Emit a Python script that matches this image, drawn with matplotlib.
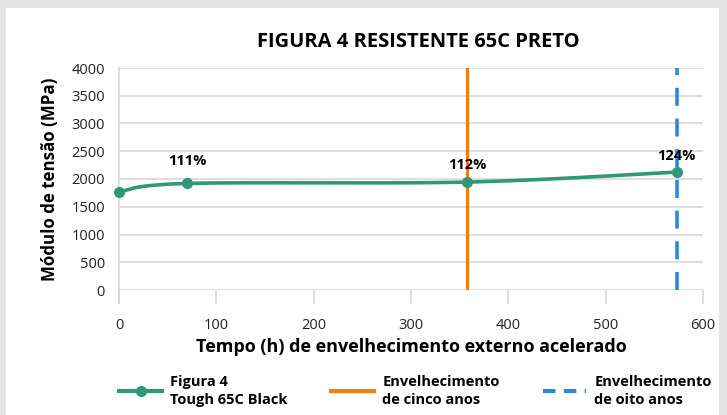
import numpy as np
import matplotlib
matplotlib.use('Agg')
import matplotlib.pyplot as plt
from matplotlib.patches import Rectangle
from matplotlib.lines import Line2D

plt.rcParams['font.family'] = ['Open Sans', 'DejaVu Sans']

# dados
hours = [0, 70, 358, 573]
modulus = [1770, 1920, 1945, 2125]
point_labels = ['', '111%', '112%', '124%']
five_years_h = 358
eight_years_h = 573

title = 'FIGURA 4 RESISTENTE 65C PRETO'
xlabel = 'Tempo (h) de envelhecimento externo acelerado'
ylabel = 'Módulo de tensão (MPa)'
series_name = 'Figura 4\nTough 65C Black'
five_name = 'Envelhecimento\nde cinco anos'
eight_name = 'Envelhecimento\nde oito anos'

green = '#2f9878'
orange = '#f07c17'
blue = '#2f88d4'
grid_c = '#d4d4d4'


def smooth_curve(x, y, n=60):
    # curva suavizada estilo Excel (Bezier com pontos de controle Catmull-Rom)
    p = np.column_stack([x, y]).astype(float)
    pts = np.vstack([p[0], p, p[-1]])
    out = []
    t = np.linspace(0, 1, n)[:, None]
    for i in range(1, len(pts) - 2):
        p0, p1, p2, p3 = pts[i - 1], pts[i], pts[i + 1], pts[i + 2]
        c1 = p1 + (p2 - p0) / 6
        c2 = p2 - (p3 - p1) / 6
        seg = ((1 - t) ** 3) * p1 + 3 * ((1 - t) ** 2) * t * c1 + 3 * (1 - t) * t ** 2 * c2 + t ** 3 * p2
        out.append(seg)
    out = np.vstack(out)
    return out[:, 0], out[:, 1]


fig = plt.figure(figsize=(7.27, 4.15), dpi=100)
fig.patch.set_facecolor('#e4e4e4')
fig.patches.append(Rectangle((6 / 727, 0), (719 - 6) / 727, (415 - 8) / 415,
                             transform=fig.transFigure, facecolor='white',
                             edgecolor='none', zorder=-5))

ax = fig.add_axes([119 / 727, (415 - 290) / 415, (703 - 119) / 727, (290 - 68) / 415])
ax.set_facecolor('none')

sx, sy = smooth_curve(hours, modulus)
ax.plot(sx, sy, color=green, linewidth=2.6, zorder=4, solid_capstyle='round')
ax.plot(hours, modulus, 'o', color=green, markersize=7, zorder=5, clip_on=False)

ax.axvline(five_years_h, color=orange, linewidth=2.3, zorder=3)
ax.axvline(eight_years_h, color=blue, linewidth=2.6, linestyle=(0, (5, 3.5)), zorder=3)

label_offsets = [0, 16, 12, 11.5]
for x, y, lab, off in zip(hours, modulus, point_labels, label_offsets):
    if lab:
        ax.annotate(lab, (x, y), xytext=(0, off), textcoords='offset points',
                    ha='center', va='center', fontsize=10.5, fontweight='bold',
                    color='black', zorder=6)

ax.set_xlim(0, 600)
ax.set_ylim(0, 4000)
ax.set_xticks(np.arange(0, 601, 100))
ax.set_yticks(np.arange(0, 4001, 500))
ax.grid(axis='y', color=grid_c, linewidth=1.1, zorder=1)
ax.set_axisbelow(True)
for s in ['top', 'right', 'bottom']:
    ax.spines[s].set_visible(False)
ax.spines['left'].set_color(grid_c)
ax.spines['left'].set_linewidth(1.1)
ax.spines['left'].set_bounds(-210, 4000)
ax.tick_params(axis='y', length=0, pad=10, labelsize=10.5, labelcolor='#222222')
ax.tick_params(axis='x', length=10, width=1.1, color=grid_c, pad=10,
               labelsize=10.5, labelcolor='#222222')

ax.set_xlabel(xlabel, fontsize=13, fontweight='bold', labelpad=4)
ax.set_ylabel(ylabel, fontsize=12.2, fontweight='bold', labelpad=9)
fig.text(418 / 727, 1 - 42 / 415, title, ha='center', va='center',
         fontsize=14.5, fontweight='bold')

handles = [
    Line2D([], [], color=green, linewidth=3, marker='o', markersize=7),
    Line2D([], [], color=orange, linewidth=3),
    Line2D([], [], color=blue, linewidth=3, linestyle=(0, (3, 2))),
]
leg = fig.legend(handles, [series_name, five_name, eight_name], ncol=3,
                 loc='center left', bbox_to_anchor=(106 / 727, 1 - 391 / 415),
                 frameon=False, handlelength=2.95, handletextpad=0.55,
                 columnspacing=3.0, prop={'size': 10.5, 'weight': 'bold'})
for t in leg.get_texts():
    t.set_linespacing(1.35)

fig.savefig('out.png', dpi=100)
